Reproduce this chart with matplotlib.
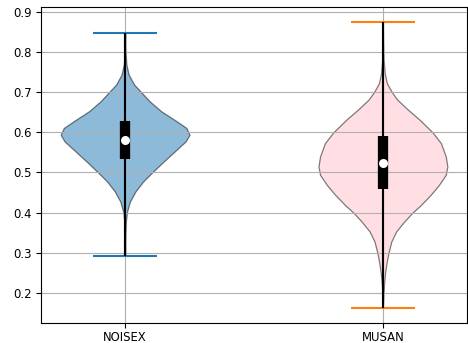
import numpy as np
import matplotlib
matplotlib.use("Agg")
import matplotlib.pyplot as plt

# Datos
etiquetas = ["NOISEX", "MUSAN"]
colores_relleno = ["#1f77b4", "pink"]
colores_extremos = ["#1f77b4", "#ff7f0e"]

minimos = [0.292, 0.161]
maximos = [0.848, 0.876]
medianas = [0.582, 0.524]
cuartil_1 = [0.534, 0.459]
cuartil_3 = [0.627, 0.590]

# perfil de densidad (valor, densidad relativa)
noisex_y = [0.292, 0.34, 0.3775, 0.4025, 0.4275, 0.4525, 0.4775, 0.5, 0.5275, 0.5525,
            0.5775, 0.594, 0.611, 0.6275, 0.6525, 0.6775, 0.7, 0.719, 0.744, 0.769,
            0.80, 0.848]
noisex_d = [0.0, 0.004, 0.012, 0.03, 0.075, 0.16, 0.28, 0.42, 0.60, 0.77,
            0.94, 1.0, 0.95, 0.80, 0.56, 0.38, 0.25, 0.14, 0.055, 0.02,
            0.006, 0.0]

musan_y = [0.161, 0.2, 0.2275, 0.2525, 0.2775, 0.3, 0.3275, 0.3525, 0.3775, 0.4,
           0.419, 0.444, 0.469, 0.494, 0.515, 0.54, 0.573, 0.6, 0.632, 0.657,
           0.682, 0.7, 0.723, 0.748, 0.782, 0.83, 0.876]
musan_d = [0.0, 0.01, 0.02, 0.036, 0.06, 0.087, 0.13, 0.205, 0.33, 0.46,
           0.59, 0.74, 0.87, 0.975, 1.0, 0.975, 0.90, 0.77, 0.565, 0.385,
           0.22, 0.14, 0.06, 0.028, 0.01, 0.003, 0.0]

perfiles = [(noisex_y, noisex_d), (musan_y, musan_d)]

# ------------------------------------------------------------------
# Estadisticas para ax.violin
# ------------------------------------------------------------------
vpstats = []
for i, (ys, ds) in enumerate(perfiles):
    vpstats.append({
        "coords": np.array(ys),
        "vals": np.array(ds),
        "mean": medianas[i],
        "median": medianas[i],
        "min": minimos[i],
        "max": maximos[i],
    })

posiciones = np.arange(1, len(etiquetas) + 1)

fig = plt.figure(figsize=(4.68, 3.43), dpi=100)
ax = fig.add_axes([0.0883, 0.0592, 0.9089, 0.9195])

partes = ax.violin(vpstats, positions=posiciones, widths=0.5, showextrema=True)
for pc, c in zip(partes["bodies"], colores_relleno):
    pc.set_facecolor(c)
    pc.set_edgecolor("black")
    pc.set_linewidth(0.9)
    pc.set_alpha(0.5)
partes["cmaxes"].set_color(colores_extremos)
partes["cmins"].set_color(colores_extremos)
partes["cbars"].set_color(colores_extremos)
for k in ["cmaxes", "cmins"]:
    partes[k].set_linewidth(1.5)

ax.vlines(posiciones, minimos, maximos, color="k", linestyle="-", lw=1.5, zorder=2.5)
ax.vlines(posiciones, cuartil_1, cuartil_3, color="k", linestyle="-", lw=7.4, zorder=2.6)
ax.scatter(posiciones, medianas, marker="o", color="white", s=30, zorder=3)

ax.set_xticks(posiciones)
ax.set_xticklabels(etiquetas)
ax.set_yticks(np.arange(0.2, 0.91, 0.1))
ax.tick_params(labelsize=8.4)
ax.tick_params(axis="x", pad=2.8)
ax.grid(True)

fig.savefig("out.png", dpi=100)
